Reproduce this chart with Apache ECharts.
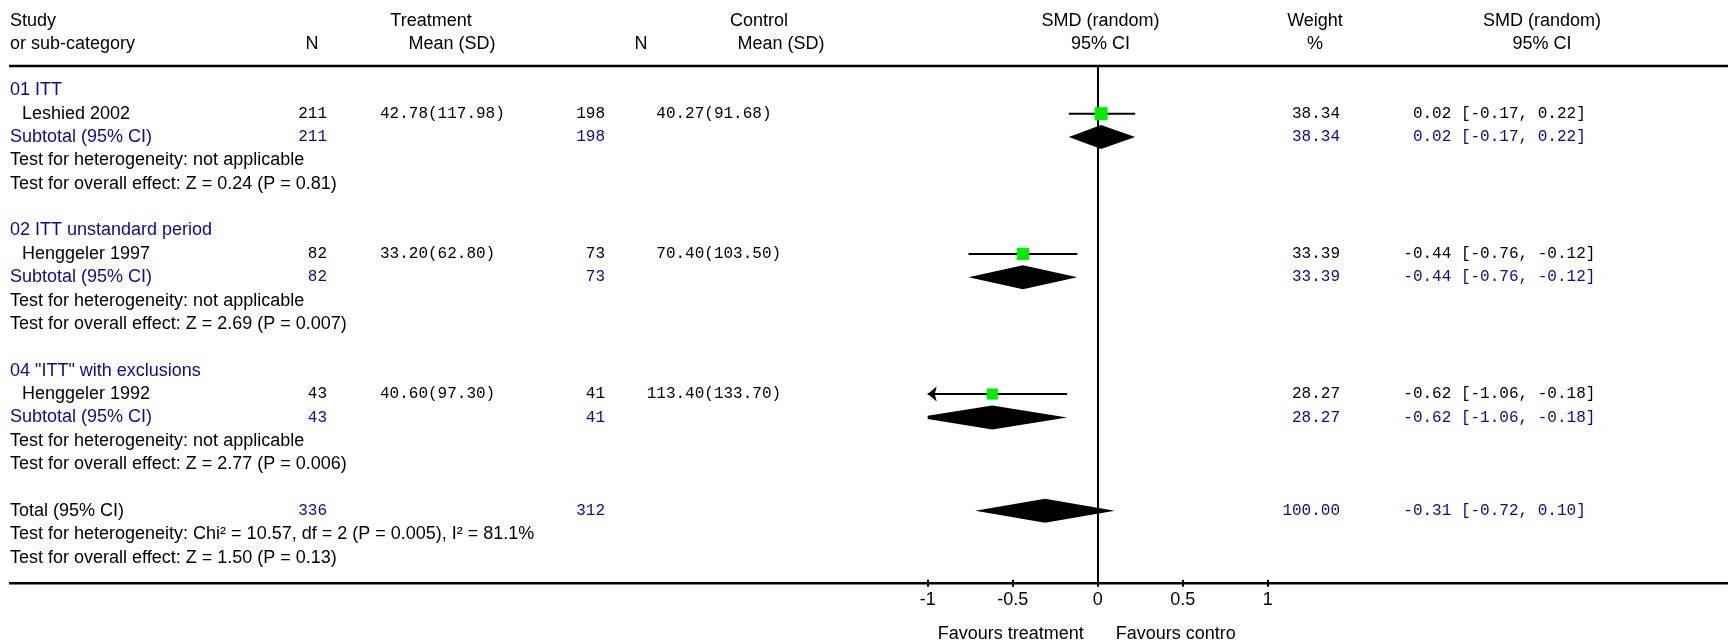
<!DOCTYPE html>
<html><head><meta charset="utf-8">
<script src="https://cdn.jsdelivr.net/npm/echarts@6/dist/echarts.min.js"></script>
<style>html,body{margin:0;padding:0;background:#fff}#c{width:1728px;height:641px}</style>
</head><body><div id="c"></div>
<script>
// ---------- data ----------
const groupTitles = ['01 ITT', '02 ITT unstandard period', '04 "ITT" with exclusions'];
const studyNames = ['Leshied 2002', 'Henggeler 1997', 'Henggeler 1992'];
const treatN = [211, 82, 43];
const treatMeanSD = ['42.78(117.98)', '33.20(62.80)', '40.60(97.30)'];
const ctrlN = [198, 73, 41];
const ctrlMeanSD = ['40.27(91.68)', '70.40(103.50)', '113.40(133.70)'];
const smd = [0.02, -0.44, -0.62];
const ciLow = [-0.17, -0.76, -1.06];
const ciHigh = [0.22, -0.12, -0.18];
const weightPct = [38.34, 33.39, 28.27];
const subtotalLabel = 'Subtotal (95% CI)';
const hetTests = ['Test for heterogeneity: not applicable', 'Test for heterogeneity: not applicable', 'Test for heterogeneity: not applicable'];
const effectTests = ['Test for overall effect: Z = 0.24 (P = 0.81)', 'Test for overall effect: Z = 2.69 (P = 0.007)', 'Test for overall effect: Z = 2.77 (P = 0.006)'];
const totalLabel = 'Total (95% CI)';
const totalN = [336, 312];
const totalSmd = [-0.31];
const totalLow = [-0.72];
const totalHigh = [0.10];
const totalWeight = [100.00];
const totalHet = 'Test for heterogeneity: Chi² = 10.57, df = 2 (P = 0.005), I² = 81.1%';
const totalEffect = 'Test for overall effect: Z = 1.50 (P = 0.13)';
const xTicks = [-1, -0.5, 0, 0.5, 1];
const headers1 = ['Study', 'Treatment', 'Control', 'SMD (random)', 'Weight', 'SMD (random)'];
const headers2 = ['or sub-category', 'N', 'Mean (SD)', 'N', 'Mean (SD)', '95% CI', '%', '95% CI'];
const favourLeft = 'Favours treatment';
const favourRight = 'Favours contro';

// ---------- layout / style ----------
const W = 1728;
const SANS = '18px "Liberation Sans", Arial, sans-serif';
const MONO = '16px "Liberation Mono", "Courier New", monospace';
const BLUE = '#0a0a96';
const GREEN = '#00ee00';
const CH = 9.6; // mono char width
const col = {
  study: 10, indent: 22,
  tN: 327, tMean: 380 - CH, cN: 605, cMean: 646.7,
  wt: 1340, ci: 1403.3
};

const chart = echarts.init(document.getElementById('c'));

function fmt(v) { const s = v.toFixed(2); return v < 0 ? s : ' ' + s; }
function ciText(e, l, h) { return fmt(e) + ' [' + l.toFixed(2) + ', ' + h.toFixed(2) + ']'; }
function padMean(s) { const intLen = s.indexOf('.'); return ' '.repeat(Math.max(0, 3 - intLen)) + s; }

const studyData = smd.map((v, i) => [6 * i + 1, v, ciLow[i], ciHigh[i], weightPct[i]]);
const diamondData = smd.map((v, i) => [6 * i + 2, v, ciLow[i], ciHigh[i]]);
diamondData.push([18, totalSmd[0], totalLow[0], totalHigh[0]]);

const xMin = xTicks[0], xMax = xTicks[xTicks.length - 1];

function renderStudy(params, api) {
  const row = api.value(0), est = api.value(1), lo = api.value(2), hi = api.value(3), w = api.value(4);
  const a = api.coord([Math.max(lo, xMin), row]);
  const b = api.coord([Math.min(hi, xMax), row]);
  const c = api.coord([est, row]);
  const s = 2.1 * Math.sqrt(w);
  const children = [{ type: 'line', shape: { x1: a[0], y1: a[1], x2: b[0], y2: b[1] }, style: { stroke: '#000', lineWidth: 2 } }];
  if (lo < xMin) {
    children.push({ type: 'polygon', shape: { points: [[a[0], a[1]], [a[0] + 9, a[1] - 7.5], [a[0] + 7, a[1]], [a[0] + 9, a[1] + 7.5]] }, style: { fill: '#000' } });
  }
  if (hi > xMax) {
    children.push({ type: 'polygon', shape: { points: [[b[0], b[1]], [b[0] - 9, b[1] - 7.5], [b[0] - 7, b[1]], [b[0] - 9, b[1] + 7.5]] }, style: { fill: '#000' } });
  }
  children.push({ type: 'rect', shape: { x: c[0] - s / 2, y: c[1] - s / 2, width: s, height: s }, style: { fill: GREEN } });
  return { type: 'group', children };
}
function renderDiamond(params, api) {
  const row = api.value(0), est = api.value(1), lo = api.value(2), hi = api.value(3);
  const c = api.coord([est, row]);
  const l = api.coord([lo, row]);
  const r = api.coord([hi, row]);
  const h = 12;
  const pts = [];
  if (lo < xMin) {
    const m = api.coord([xMin, row]);
    const hh = h * (m[0] - l[0]) / (c[0] - l[0]);
    pts.push([m[0], m[1] + hh], [m[0], m[1] - hh]);
  } else pts.push([l[0], l[1]]);
  pts.push([c[0], c[1] - h]);
  if (hi > xMax) {
    const m = api.coord([xMax, row]);
    const hh = h * (r[0] - m[0]) / (r[0] - c[0]);
    pts.push([m[0], m[1] - hh], [m[0], m[1] + hh]);
  } else pts.push([r[0], r[1]]);
  pts.push([c[0], c[1] + h]);
  return { type: 'polygon', shape: { points: pts }, style: { fill: '#000' } };
}

const gridTop = 67, rowH = 23.36;
chart.setOption({
  animation: false,
  grid: { left: 927.7, width: 340, top: gridTop, height: rowH * 22.1, containLabel: false },
  xAxis: { type: 'value', min: xMin, max: xMax, interval: 0.5, position: 'bottom', offset: -3.5,
    axisLine: { show: false, onZero: false }, splitLine: { show: false },
    axisTick: { show: true, inside: false, length: 7, lineStyle: { color: '#000', width: 2 } },
    axisLabel: { show: true, margin: 11.5, color: '#000', fontSize: 18, fontFamily: '"Liberation Sans", Arial, sans-serif' } },
  yAxis: { type: 'value', inverse: true, min: -1, max: 21.1,
    axisLine: { show: true, onZero: true, lineStyle: { color: '#000', width: 2 } },
    axisTick: { show: false }, axisLabel: { show: false }, splitLine: { show: false } },
  series: [
    { type: 'custom', renderItem: renderDiamond, data: diamondData, clip: false, silent: true },
    { type: 'custom', renderItem: renderStudy, data: studyData, clip: false, silent: true }
  ]
});

const Y = r => chart.convertToPixel({ yAxisIndex: 0 }, r);
const X = v => chart.convertToPixel({ xAxisIndex: 0 }, v);
const g = [];
function txt(text, x, y, align, font, color, width) {
  const st = { text: String(text), x: x, y: y, font: font, fill: color || '#000',
    align: align, textAlign: align, verticalAlign: 'middle', textVerticalAlign: 'middle' };
  if (width) { st.width = width; st.overflow = 'truncate'; st.ellipsis = ''; }
  g.push({ type: 'text', style: st, z: 10 });
}
// header
const hy1 = 20.7, hy2 = 44;
txt(headers1[0], col.study, hy1, 'left', SANS);
txt(headers2[0], col.study, hy2, 'left', SANS);
txt(headers1[1], 431, hy1, 'center', SANS);
txt(headers2[1], 312, hy2, 'center', SANS);
txt(headers2[2], 452, hy2, 'center', SANS);
txt(headers1[2], 759, hy1, 'center', SANS);
txt(headers2[3], 641, hy2, 'center', SANS);
txt(headers2[4], 781, hy2, 'center', SANS);
txt(headers1[3], 1100.5, hy1, 'center', SANS);
txt(headers2[5], 1100.5, hy2, 'center', SANS);
txt(headers1[4], 1315, hy1, 'center', SANS);
txt(headers2[6], 1315, hy2, 'center', SANS);
txt(headers1[5], 1542, hy1, 'center', SANS);
txt(headers2[7], 1542, hy2, 'center', SANS);

const effWidths = [341, 351, 342];
groupTitles.forEach((t, i) => {
  const r = 6 * i;
  txt(t, col.study, Y(r), 'left', SANS, BLUE);
  txt(studyNames[i], col.indent, Y(r + 1), 'left', SANS);
  txt(treatN[i], col.tN, Y(r + 1), 'right', MONO);
  txt(padMean(treatMeanSD[i]), col.tMean, Y(r + 1), 'left', MONO);
  txt(ctrlN[i], col.cN, Y(r + 1), 'right', MONO);
  txt(padMean(ctrlMeanSD[i]), col.cMean, Y(r + 1), 'left', MONO);
  txt(weightPct[i].toFixed(2), col.wt, Y(r + 1), 'right', MONO);
  txt(ciText(smd[i], ciLow[i], ciHigh[i]), col.ci, Y(r + 1), 'left', MONO);
  txt(subtotalLabel, col.study, Y(r + 2), 'left', SANS, BLUE);
  txt(treatN[i], col.tN, Y(r + 2), 'right', MONO, BLUE);
  txt(ctrlN[i], col.cN, Y(r + 2), 'right', MONO, BLUE);
  txt(weightPct[i].toFixed(2), col.wt, Y(r + 2), 'right', MONO, BLUE);
  txt(ciText(smd[i], ciLow[i], ciHigh[i]), col.ci, Y(r + 2), 'left', MONO, BLUE);
  txt(hetTests[i], col.study, Y(r + 3), 'left', SANS, '#000', 305);
  txt(effectTests[i], col.study, Y(r + 4), 'left', SANS, '#000', effWidths[i]);
});
txt(totalLabel, col.study, Y(18), 'left', SANS);
txt(totalN[0], col.tN, Y(18), 'right', MONO, BLUE);
txt(totalN[1], col.cN, Y(18), 'right', MONO, BLUE);
txt(totalWeight[0].toFixed(2), col.wt, Y(18), 'right', MONO, BLUE);
txt(ciText(totalSmd[0], totalLow[0], totalHigh[0]), col.ci, Y(18), 'left', MONO, BLUE);
txt(totalHet, col.study, Y(19), 'left', SANS, '#000', 545);
txt(totalEffect, col.study, Y(20), 'left', SANS, '#000', 342);

// rules
const axisY = gridTop + rowH * 22.1;
g.push({ type: 'line', shape: { x1: 9, y1: 66, x2: W, y2: 66 }, style: { stroke: '#000', lineWidth: 2.5 }, z: 5 });
g.push({ type: 'line', shape: { x1: 9, y1: axisY, x2: W, y2: axisY }, style: { stroke: '#000', lineWidth: 2.5 }, z: 5 });
// favours
const x0 = X(0);
txt(favourLeft, x0 - 14, 634, 'right', SANS);
txt(favourRight, x0 + 18, 634, 'left', SANS);

chart.setOption({ graphic: { elements: g } });
</script>
</body></html>
